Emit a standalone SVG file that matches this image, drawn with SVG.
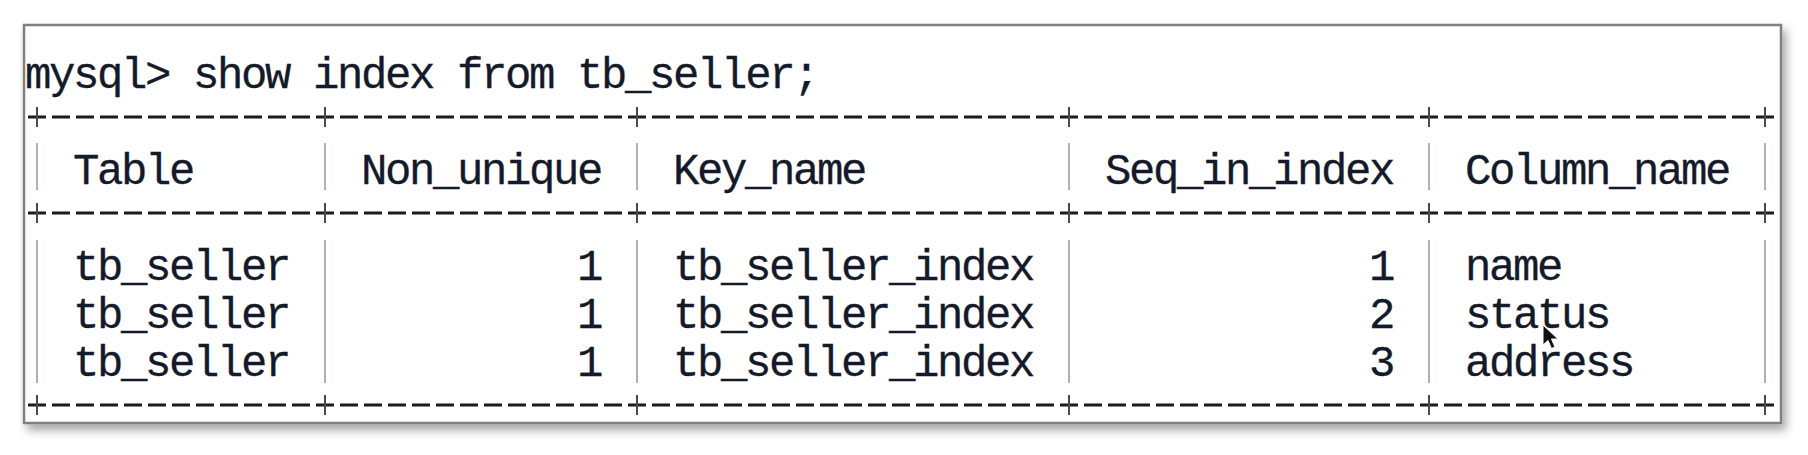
<svg xmlns="http://www.w3.org/2000/svg" width="1808" height="455" viewBox="0 0 1808 455">
  <defs>
    <filter id="shadow" x="-5%" y="-20%" width="110%" height="140%">
      <feDropShadow dx="4" dy="6" stdDeviation="5" flood-color="#000" flood-opacity="0.35"/>
    </filter>
    <style>
      .t { font-family: "Liberation Mono", "Courier New", monospace; font-size: 44px; letter-spacing: -2.4px; fill: #151a2a; stroke: #151a2a; stroke-width: 0.3px; }
      .dash { stroke: #1c1c1c; stroke-width: 3; stroke-dasharray: 18 6; fill: none; }
      .tick { stroke: #4a4a4a; stroke-width: 2; }
      .bar { stroke: #a7b3bf; stroke-width: 2; }
    </style>
  </defs>
  <rect x="0" y="0" width="1808" height="455" fill="#ffffff"/>

  <g id="window">
    <rect x="24" y="25" width="1757" height="398" fill="#ffffff" stroke="#808080" stroke-width="2.5" filter="url(#shadow)"/>
  </g>

  <g id="command">
    <text class="t" x="25" y="88">mysql&gt; show index from tb_seller;</text>
  </g>

  <g id="borders">
    <line class="dash" x1="28" y1="117" x2="1777" y2="117"/>
    <line class="dash" x1="28" y1="213" x2="1777" y2="213"/>
    <line class="dash" x1="28" y1="405" x2="1777" y2="405"/>
    <g class="tick">
      <line x1="37" y1="107" x2="37" y2="127"/><line x1="325" y1="107" x2="325" y2="127"/>
      <line x1="637" y1="107" x2="637" y2="127"/><line x1="1069" y1="107" x2="1069" y2="127"/>
      <line x1="1429" y1="107" x2="1429" y2="127"/><line x1="1765" y1="107" x2="1765" y2="127"/>
      <line x1="37" y1="203" x2="37" y2="223"/><line x1="325" y1="203" x2="325" y2="223"/>
      <line x1="637" y1="203" x2="637" y2="223"/><line x1="1069" y1="203" x2="1069" y2="223"/>
      <line x1="1429" y1="203" x2="1429" y2="223"/><line x1="1765" y1="203" x2="1765" y2="223"/>
      <line x1="37" y1="395" x2="37" y2="415"/><line x1="325" y1="395" x2="325" y2="415"/>
      <line x1="637" y1="395" x2="637" y2="415"/><line x1="1069" y1="395" x2="1069" y2="415"/>
      <line x1="1429" y1="395" x2="1429" y2="415"/><line x1="1765" y1="395" x2="1765" y2="415"/>
    </g>
    <g class="bar">
      <line x1="37" y1="143" x2="37" y2="190"/><line x1="325" y1="143" x2="325" y2="190"/>
      <line x1="637" y1="143" x2="637" y2="190"/><line x1="1069" y1="143" x2="1069" y2="190"/>
      <line x1="1429" y1="143" x2="1429" y2="190"/><line x1="1765" y1="143" x2="1765" y2="190"/>
      <line x1="37" y1="240" x2="37" y2="383"/><line x1="325" y1="240" x2="325" y2="383"/>
      <line x1="637" y1="240" x2="637" y2="383"/><line x1="1069" y1="240" x2="1069" y2="383"/>
      <line x1="1429" y1="240" x2="1429" y2="383"/><line x1="1765" y1="240" x2="1765" y2="383"/>
    </g>
  </g>

  <g id="header">
    <text class="t" x="73" y="184">Table</text>
    <text class="t" x="361" y="184">Non_unique</text>
    <text class="t" x="673" y="184">Key_name</text>
    <text class="t" x="1105" y="184">Seq_in_index</text>
    <text class="t" x="1465" y="184">Column_name</text>
  </g>

  <g id="row1">
    <text class="t" x="73" y="280">tb_seller</text>
    <text class="t" x="577" y="280">1</text>
    <text class="t" x="673" y="280">tb_seller_index</text>
    <text class="t" x="1369" y="280">1</text>
    <text class="t" x="1465" y="280">name</text>
  </g>
  <g id="row2">
    <text class="t" x="73" y="328">tb_seller</text>
    <text class="t" x="577" y="328">1</text>
    <text class="t" x="673" y="328">tb_seller_index</text>
    <text class="t" x="1369" y="328">2</text>
    <text class="t" x="1465" y="328">status</text>
  </g>
  <g id="row3">
    <text class="t" x="73" y="376">tb_seller</text>
    <text class="t" x="577" y="376">1</text>
    <text class="t" x="673" y="376">tb_seller_index</text>
    <text class="t" x="1369" y="376">3</text>
    <text class="t" x="1465" y="376">address</text>
  </g>

  <g id="cursor">
    <path d="M1543 325 L1543 345 L1548 340.5 L1551.5 348.5 L1555 347 L1551.5 339 L1558 339 Z" fill="#111" stroke="#fff" stroke-width="1"/>
  </g>
</svg>
